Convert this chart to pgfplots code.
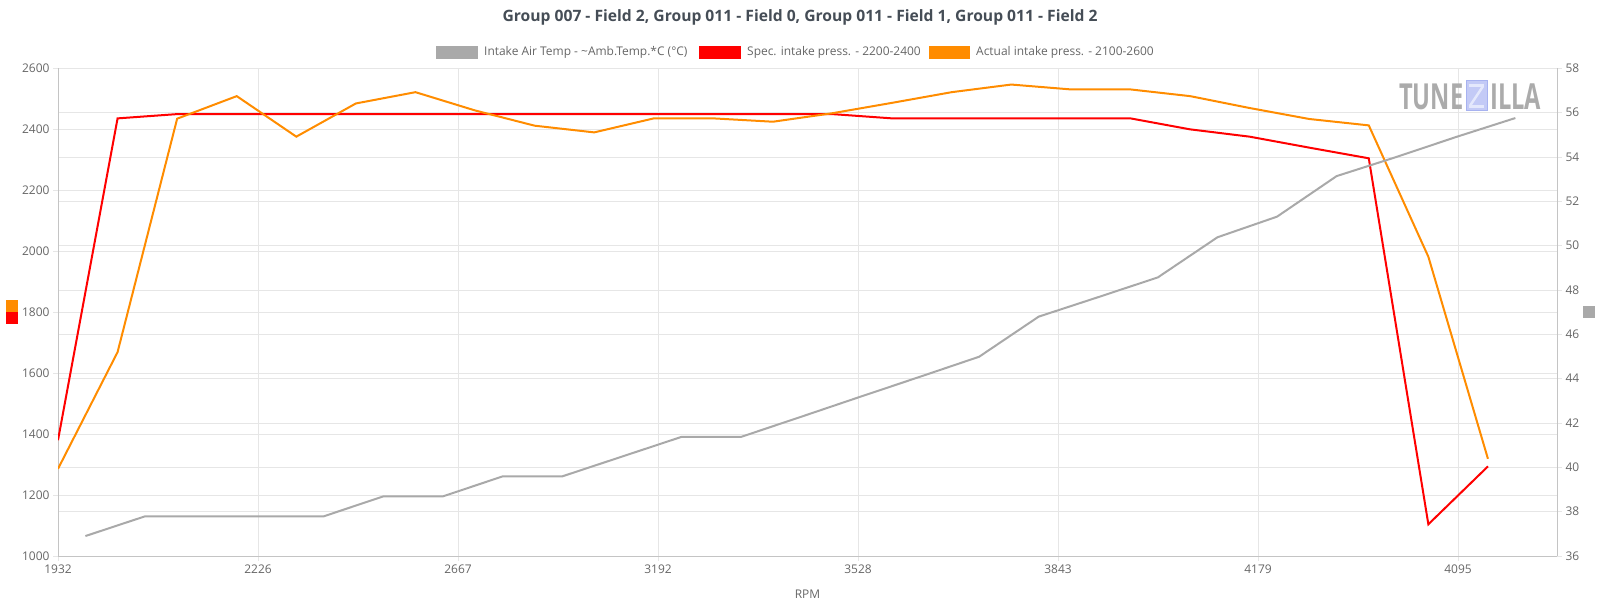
\documentclass[border=0pt]{standalone}
\usepackage{fontspec}
\setmainfont{Open Sans}
\newfontfamily\wmfont[FakeStretch=0.66]{Open Sans}
\usepackage{pgfplots}
\pgfplotsset{compat=1.18}

\definecolor{spec}{HTML}{FF0000}
\definecolor{actual}{HTML}{FF8C00}
\definecolor{iat}{HTML}{A9A9A9}
\definecolor{gridc}{HTML}{E6E6E6}
\definecolor{axc}{HTML}{C4C4C4}
\definecolor{tickc}{HTML}{666666}
\definecolor{titlec}{HTML}{454D56}
\definecolor{wmgray}{HTML}{ABABAB}
\definecolor{wmblue}{HTML}{C3CAF6}
\definecolor{wmedge}{HTML}{A7B2F0}
\definecolor{wmlight}{HTML}{E4E8FC}

% sample index -> intake pressures (mbar)
\pgfplotstableread{
i  spec  actual
0  1380  1286
1  2436  1669
2  2450  2435
3  2450  2509
4  2450  2376
5  2450  2485
6  2450  2522
7  2450  2462
8  2450  2412
9  2450  2390
10 2450  2436
11 2450  2436
12 2450  2425
13 2450  2453
14 2436  2487
15 2436  2522
16 2436  2547
17 2436  2531
18 2436  2531
19 2400  2509
20 2376  2470
21 2340  2434
22 2305  2413
23 1104  1982
24 1294  1319
}\pressures

% intake air temperature (deg C), sampled half a step later
\pgfplotstableread{
i      temp
0.46   36.90
1.46   37.79
2.46   37.79
3.46   37.79
4.46   37.79
5.46   38.69
6.46   38.69
7.46   39.59
8.46   39.59
9.46   40.48
10.46  41.37
11.46  41.37
12.46  42.27
13.46  43.18
14.46  44.08
15.46  44.99
16.46  46.80
17.46  47.68
18.46  48.57
19.46  50.38
20.46  51.31
21.46  53.14
22.46  54.00
23.46  54.90
24.46  55.76
}\iattable

\pgfplotsset{
  common/.style={
    at={(58bp,47bp)}, anchor=south west,
    scale only axis, width=1499bp, height=487.6bp,
    xmin=0, xmax=25.159,
    grid style={gridc, line width=1bp},
    tick align=outside, major tick length=5bp,
    tick style={gridc, line width=1bp},
    axis line style={axc, line width=1bp, -},
    tick label style={font=\fontsize{12}{14}\selectfont, text=tickc},
    /pgf/number format/assume math mode=true,
    /pgf/number format/1000 sep={},
  },
  tempaxis/.style={common, ymin=36, ymax=58},
}

\begin{document}
\begin{tikzpicture}
\useasboundingbox (0,0) rectangle (1600bp,603bp);

% title
\node[font=\fontsize{15.7}{18}\selectfont\bfseries, text=titlec] at (800bp,585.5bp)
  {Group 007 - Field 2, Group 011 - Field 0, Group 011 - Field 1, Group 011 - Field 2};

% legend
\begin{scope}[font=\fontsize{12}{14}\selectfont, text=tickc]
  \fill[iat] (436bp,544bp) rectangle (478bp,557bp);
  \node[anchor=west, inner sep=0] at (484bp,550.5bp) {Intake Air Temp - \textasciitilde Amb.Temp.*C (°C)};
  \fill[spec] (699bp,544bp) rectangle (741bp,557bp);
  \node[anchor=west, inner sep=0] at (747bp,550.5bp) {Spec. intake press. - 2200-2400};
  \fill[actual] (929bp,544bp) rectangle (970bp,557bp);
  \node[anchor=west, inner sep=0] at (976bp,550.5bp) {Actual intake press. - 2100-2600};
\end{scope}

% axis title swatches
\fill[actual] (6bp,291bp) rectangle (18bp,303bp);
\fill[spec] (6bp,279bp) rectangle (18bp,291bp);
\fill[iat] (1583bp,285bp) rectangle (1595bp,297bp);

% right-hand temperature scale and its grid
\begin{axis}[tempaxis,
  ytick={36,38,...,58}, ymajorgrids,
  axis y line*=right, axis x line=none,
]
  \addplot[draw=none] table[x=i, y=temp] {\iattable};
\end{axis}

% left-hand pressure scale with both pressure traces
\begin{axis}[common,
  ymin=1000, ymax=2600, ytick={1000,1200,...,2600},
  xtick={0,3.3568,6.7136,10.0704,13.4272,16.784,20.1408,23.4976},
  xticklabels={1932,2226,2667,3192,3528,3843,4179,4095},
  xmajorgrids, ymajorgrids,
  axis x line*=bottom, axis y line*=left,
  xlabel={RPM},
  xlabel style={font=\fontsize{12}{14}\selectfont, text=tickc, yshift=-10bp},
]
  \addplot[spec, line width=2bp, mark=none] table[x=i, y=spec] {\pressures};
  \addplot[actual, line width=2bp, mark=none] table[x=i, y=actual] {\pressures};
\end{axis}

% temperature trace on top
\begin{axis}[tempaxis, hide axis]
  \addplot[iat, line width=2bp, mark=none] table[x=i, y=temp] {\iattable};
\end{axis}

% watermark
\node[anchor=west, inner sep=0, font=\wmfont\bfseries\fontsize{36}{36}\selectfont, text=wmgray] at (1399bp,506bp) {TUNE};
\filldraw[fill=wmblue, draw=wmedge, line width=1bp] (1466bp,492bp) rectangle (1487bp,522bp);
\fill[wmlight] (1469bp,516bp) rectangle (1484bp,519bp);
\fill[wmlight] (1469bp,495bp) rectangle (1484bp,498bp);
\fill[wmlight] (1481bp,516bp) -- (1484bp,516bp) -- (1472bp,498bp) -- (1469bp,498bp) -- cycle;
\node[anchor=west, inner sep=0, font=\wmfont\bfseries\fontsize{36}{36}\selectfont, text=wmgray] at (1490bp,506bp) {ILLA};
\end{tikzpicture}
\end{document}
